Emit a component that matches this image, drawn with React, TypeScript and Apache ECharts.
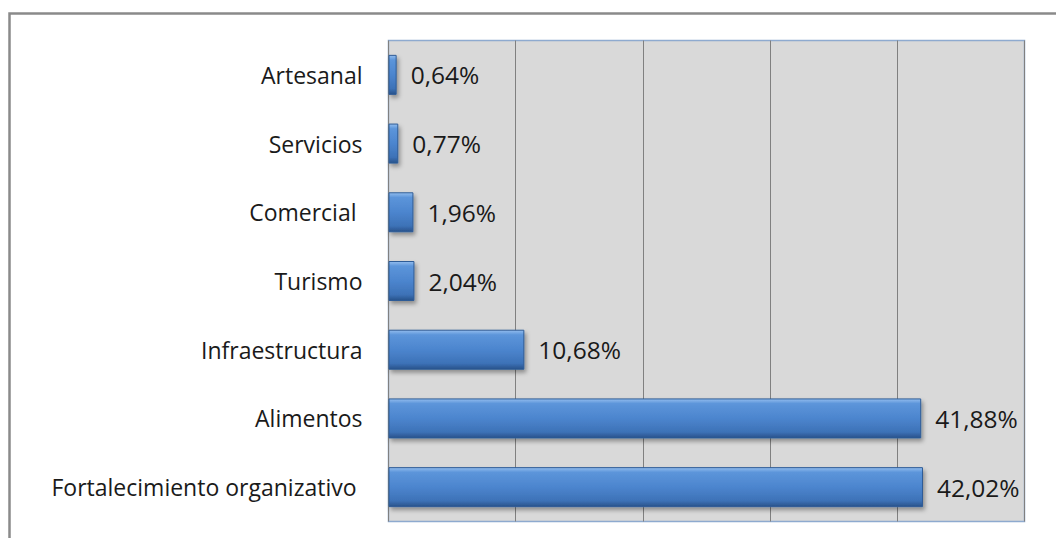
import React, { useEffect, useRef } from "react";
import * as echarts from "echarts";

const categories = [
  "Artesanal",
  "Servicios",
  "Comercial ",
  "Turismo",
  "Infraestructura",
  "Alimentos",
  "Fortalecimiento organizativo ",
];
const values = [0.64, 0.77, 1.96, 2.04, 10.68, 41.88, 42.02];
const axisMin = 0;
const axisMax = 50;
const axisInterval = 10;

const FONT = "Open Sans";

export default function App() {
  const ref = useRef<HTMLDivElement>(null);
  useEffect(() => {
    document.body.style.margin = "0";
    if (!ref.current) return;
    const chart = echarts.init(ref.current, null, { renderer: "svg" });
    chart.setOption({
      animation: false,
      backgroundColor: "#ffffff",
      graphic: [
        {
          type: "rect",
          shape: { x: 9.5, y: 13.5, width: 1200, height: 700 },
          style: { fill: "none", stroke: "#8a8a8a", lineWidth: 2.5 },
          z: 0,
        },
      ],
      grid: {
        left: 388.5,
        top: 40.5,
        width: 636,
        height: 481,
        show: true,
        backgroundColor: "#D9D9D9",
        borderColor: "#8EAACF",
        borderWidth: 1.5,
        containLabel: false,
      },
      xAxis: {
        type: "value",
        min: axisMin,
        max: axisMax,
        interval: axisInterval,
        axisLabel: { show: false },
        axisLine: { show: false },
        axisTick: { show: false },
        splitLine: { show: true, lineStyle: { color: "#808080", width: 1 } },
      },
      yAxis: {
        type: "category",
        data: categories,
        inverse: true,
        axisLine: { show: false },
        axisTick: { show: false },
        splitLine: { show: false },
        axisLabel: {
          margin: 26,
          fontFamily: FONT,
          fontSize: 23,
          color: "#1a1a1a",
        },
      },
      series: [
        {
          type: "bar",
          data: values,
          barWidth: 40,
          itemStyle: {
            color: new echarts.graphic.LinearGradient(0, 0, 0, 1, [
              { offset: 0, color: "#93BDEE" },
              { offset: 0.12, color: "#5C95DA" },
              { offset: 0.5, color: "#4C85CE" },
              { offset: 0.85, color: "#3D72B7" },
              { offset: 1, color: "#28528A" },
            ]),
            borderColor: "#2F5C97",
            borderWidth: 1,
            shadowColor: "rgba(0,0,0,0.35)",
            shadowBlur: 4,
            shadowOffsetX: 2,
            shadowOffsetY: 3,
          },
          label: {
            show: true,
            position: "right",
            distance: 14,
            fontFamily: FONT,
            fontSize: 24.5,
            color: "#1a1a1a",
            formatter: (p: any) => p.value.toFixed(2).replace(".", ",") + "%",
          },
        },
      ],
    });
    return () => chart.dispose();
  }, []);
  return <div ref={ref} style={{ width: 1056, height: 538 }} />;
}
